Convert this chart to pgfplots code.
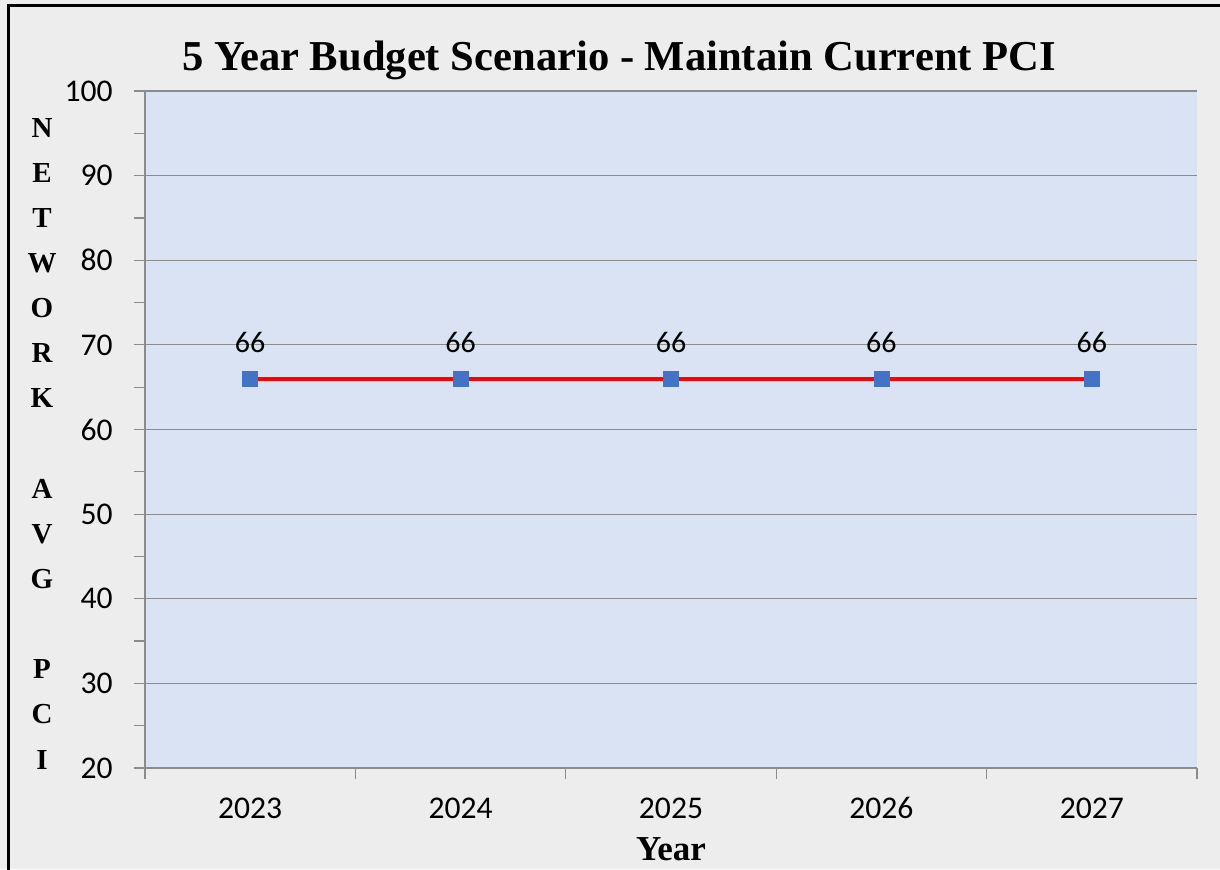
\documentclass[border=0pt]{standalone}
\usepackage{fontspec}
\setmainfont{Liberation Serif}
\newfontfamily\calibri{Carlito}
\usepackage{pgfplots}
\pgfplotsset{compat=1.18}
\definecolor{bggray}{HTML}{EDEDED}
\definecolor{plotbg}{HTML}{DAE3F3}
\definecolor{gridgray}{HTML}{8C8C8C}
\definecolor{mblue}{HTML}{4472C4}
\definecolor{lred}{HTML}{FF0000}
\begin{document}
\begin{tikzpicture}
\fill[bggray] (0,0) rectangle (610pt,434.5pt);
\path[use as bounding box] (0,0) rectangle (610pt,434.5pt);
\draw[black, line width=1.2pt] (4.2pt,-2pt) -- (4.2pt,431.8pt) -- (615pt,431.8pt);
\begin{axis}[
  at={(72.5pt,50.5pt)}, anchor=south west,
  scale only axis, width=526pt, height=338.5pt,
  xmin=-0.5, xmax=4.5, ymin=20, ymax=100,
  axis background/.style={fill=plotbg},
  axis x line*=bottom, axis y line*=left,
  axis line style={gridgray, line width=0.6pt},
  tick align=outside,
  tick style={gridgray, line width=0.6pt},
  major tick length=5.5pt, minor tick length=5.5pt,
  ytick={20,30,...,100}, minor ytick={25,35,...,95},
  ymajorgrids, major grid style={gridgray, line width=0.6pt},
  xtick={-0.5,0.5,1.5,2.5,3.5,4.5}, xticklabels={},
  extra x ticks={0,1,2,3,4},
  extra x tick labels={2023,2024,2025,2026,2027},
  extra x tick style={major tick length=0pt},
  /pgf/number format/assume math mode=true,
  yticklabel style={font=\calibri\fontsize{15.8}{16}\selectfont, anchor=east, inner sep=0pt, xshift=-10.5pt, text=black},
  xticklabel style={font=\calibri\fontsize{15.8}{16}\selectfont, anchor=base, inner sep=0pt, yshift=-25pt, text=black},
  title={5 Year Budget Scenario - Maintain Current PCI},
  title style={font=\bfseries\fontsize{21.3}{22}\selectfont, at={(axis description cs:0.4506,1.0133)}, anchor=base, inner sep=0pt, yshift=0pt},
  xlabel={Year},
  xlabel style={font=\bfseries\fontsize{17.5}{18}\selectfont, at={(axis description cs:0.5,-0.1359)}, anchor=base, inner sep=0pt},
  ylabel={\begin{tabular}{@{}c@{}}N\\E\\T\\W\\O\\R\\K\\ \\A\\V\\G\\ \\P\\C\\I\end{tabular}},
  ylabel style={rotate=-90, font=\bfseries\fontsize{14.5}{22.57}\selectfont, at={(axis description cs:-0.0979,0.4786)}, anchor=center, inner sep=0pt},
  clip=false,
  nodes near coords,
  every node near coord/.append style={font=\calibri\fontsize{15}{15}\selectfont, text=black, anchor=center, yshift=18pt},
]
\addplot[lred, line width=2pt, mark=square*, mark size=3.75pt, mark options={fill=mblue, draw=mblue, solid, line width=0.4pt}]
  coordinates {(0,66) (1,66) (2,66) (3,66) (4,66)};
\end{axis}
\end{tikzpicture}
\end{document}
